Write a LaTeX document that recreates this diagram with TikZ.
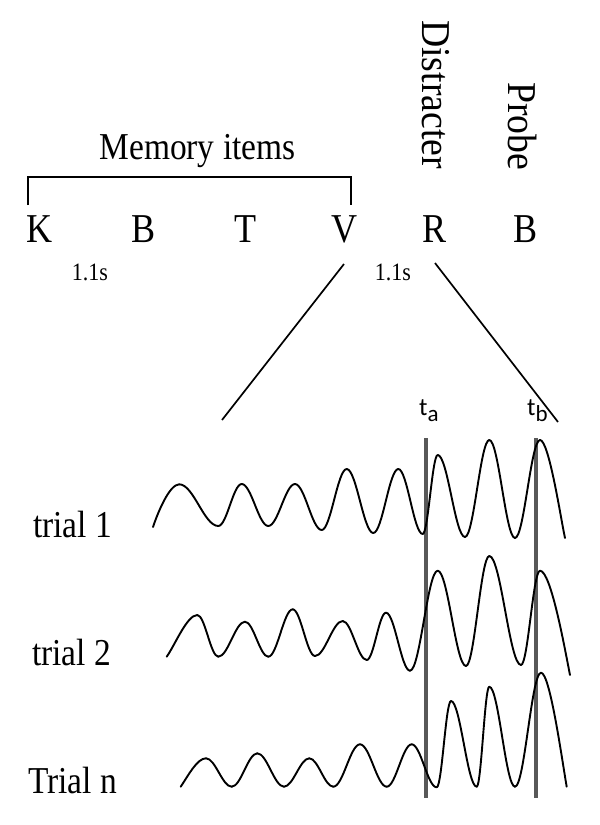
\documentclass[tikz,border=0pt]{standalone}
\usepackage{fontspec}
\setmainfont[FakeStretch=0.88]{Liberation Serif}
\newfontfamily\vertf[FakeStretch=0.92]{Liberation Serif}
\newfontfamily\sansf{Carlito}
\tikzset{
  wave/.style={line width=1.9pt, line cap=round, black},
  plainline/.style={line width=1.7pt, black},
  markline/.style={line width=3.6pt, color={rgb,255:red,88;green,88;blue,88}},
  letter/.style={anchor=base, inner sep=0pt, font=\fontsize{41}{41}\selectfont},
  secs/.style={anchor=base, inner sep=0pt, font=\fontsize{25}{25}\selectfont},
  triallab/.style={anchor=base west, inner sep=0pt, font=\fontsize{38}{38}\selectfont},
  vlab/.style={anchor=base west, rotate=-90, inner sep=0pt, font=\vertf\fontsize{41}{41}\selectfont},
  tlab/.style={anchor=base west, inner sep=0pt, font=\sansf\fontsize{25}{25}\selectfont}
}
\newcommand\wavesegs[1]{%
  \foreach \x/\y [remember=\x as \lx (initially 0), remember=\y as \ly (initially 0), count=\i] in {#1} {%
    \ifnum\i>1
      \draw[wave] (\lx,\ly) .. controls ({\lx+0.364*(\x-\lx)},\ly) and ({\x-0.364*(\x-\lx)},\y) .. (\x,\y);
    \fi
  }%
}
\begin{document}
\begin{tikzpicture}[x=1pt,y=-1pt]
\path[use as bounding box] (0,0) rectangle (600,825);

% headings
\node[anchor=base, inner sep=0pt, font=\fontsize{38}{38}\selectfont] (mem) at (197.5,159) {Memory items};
\node[vlab] (dis) at (422,20) {Distracter};
\node[vlab] (pro) at (508,82) {Probe};

% bracket
\coordinate (bl) at (28,205);
\coordinate (br) at (351,205);
\draw[line width=1.6pt] (bl) |- (351,177) -- (br);

% letters
\node[letter] (k) at (40,242) {K};
\node[letter] (b1) at (143.5,242) {B};
\node[letter] (t) at (246,242) {T};
\node[letter] (v) at (345,242) {V};
\node[letter] (r) at (435,242) {R};
\node[letter] (b2) at (526,242) {B};

\node[secs] (s1) at (90,280) {1.1s};
\node[secs] (s2) at (393,280) {1.1s};

% zoom lines
\coordinate (v1) at (344,264);
\coordinate (v2) at (222,420);
\coordinate (r1) at (435,263);
\coordinate (r2) at (558,422);
\draw[plainline] (v1) -- (v2);
\draw[plainline] (r1) -- (r2);

% time labels
\node[tlab] (ta) at (419,415) {t\raisebox{-6.5pt}{\fontsize{23}{23}\selectfont a}};
\node[tlab] (tb) at (527,415) {t\raisebox{-6.5pt}{\fontsize{23}{23}\selectfont b}};

% marker lines
\coordinate (ma1) at (426,438);
\coordinate (ma2) at (426,798);
\coordinate (mb1) at (536,438);
\coordinate (mb2) at (536,798);
\draw[markline] (ma1) -- (ma2);
\draw[markline] (mb1) -- (mb2);

% trial labels
\node[triallab] (l1) at (33,537) {trial 1};
\node[triallab] (l2) at (32,665) {trial 2};
\node[triallab] (l3) at (28,793) {Trial n};

% trial 1 wave
\draw[wave] (153,527) .. controls (158,512) and (169.5,484.3) .. (179.3,484.3);
\wavesegs{179.3/484.3,218.3/526,241.7/484,268.3/526,295/484,321.7/530,346.7/469,373.3/533,398.3/469,422.7/534,437.7/455,465/537,489.3/440,515/538,540/440}
\draw[wave] (540,440) .. controls (549,440) and (561,520) .. (565,538);

% trial 2 wave
\draw[wave] (166.7,656.7) .. controls (175,645) and (187,615) .. (197.3,615);
\wavesegs{197.3/615,218.3/656.7,245/621.7,268.3/656.7,292.7/609.3,315/656,342.7/621,366.7/660,386/612.7,410/670.7,437.7/570.7,466/666,489.3/556,521/665,540/570.7}
\draw[wave] (540,570.7) .. controls (551,570.7) and (565,650) .. (570,675);

% trial n wave
\draw[wave] (180.7,786.7) .. controls (188,776) and (197,758.3) .. (206,758.3);
\wavesegs{206/758.3,231.7/786.7,257.3/753.3,284/786.7,309.3/758.3,333.3/786.7,360/744.3,386.7/786.7,411.7/744.3,436.7/787.3,451/701,476.7/786.7,489.3/686.7,515/786.7,541/672.7}
\draw[wave] (541,672.7) .. controls (550,672.7) and (562,760) .. (566.7,786.7);
\end{tikzpicture}
\end{document}
